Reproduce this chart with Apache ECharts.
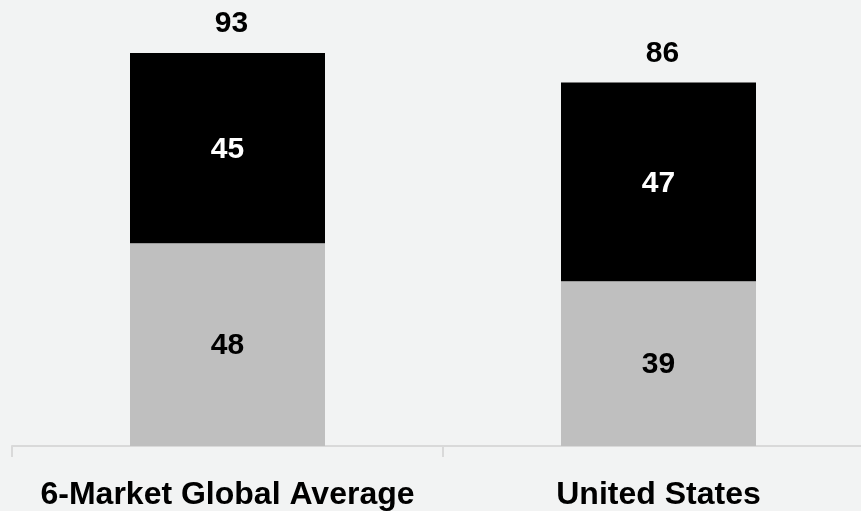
<!DOCTYPE html>
<html>
<head>
<meta charset="utf-8">
<style>
  html, body { margin: 0; padding: 0; background: #f2f3f3; }
  #chart { width: 861px; height: 511px; }
</style>
<script src="https://cdn.jsdelivr.net/npm/echarts@6/dist/echarts.min.js"></script>
</head>
<body>
<div id="chart"></div>
<script>
// Two-segment stacked columns with the total shown above each column
const categories = ['6-Market Global Average', 'United States'];
const lowerValues = [48, 39];   // grey segment
const upperValues = [45, 47];   // black segment
const totals = [93, 86];        // column totals

const chart = echarts.init(document.getElementById('chart'), null, { renderer: 'canvas' });

const valueLabel = (color) => ({
  show: true,
  position: 'inside',
  offset: [0, 1.5],
  color: color,
  fontFamily: 'Liberation Sans, Arial, sans-serif',
  fontWeight: 'bold',
  fontSize: 30,
  formatter: '{c}'
});

chart.setOption({
  backgroundColor: '#f2f3f3',
  animation: false,
  grid: {
    left: 12, right: -13, top: 23.4, bottom: 65,
    containLabel: false,
    outerBoundsMode: 'none'
  },
  xAxis: {
    type: 'category',
    data: categories,
    axisLine: { show: true, lineStyle: { color: '#d9d9d9', width: 2 } },
    axisTick: { show: true, length: 11, lineStyle: { color: '#d9d9d9', width: 2 } },
    axisLabel: {
      interval: 0,
      hideOverlap: false,
      color: '#000',
      fontFamily: 'Liberation Sans, Arial, sans-serif',
      fontWeight: 'bold',
      fontSize: 32,
      margin: 33
    }
  },
  yAxis: {
    type: 'value',
    min: 0,
    max: 100,
    show: false
  },
  series: [
    {
      name: 'lower',
      type: 'bar',
      stack: 'total',
      data: lowerValues,
      barWidth: 195,
      itemStyle: { color: '#bfbfbf' },
      label: valueLabel('#000')
    },
    {
      name: 'upper',
      type: 'bar',
      stack: 'total',
      data: upperValues,
      barWidth: 195,
      itemStyle: { color: '#000000' },
      label: valueLabel('#ffffff')
    },
    {
      name: 'total',
      type: 'bar',
      data: totals,
      barWidth: 195,
      barGap: '-100%',
      z: 1,
      itemStyle: { color: 'rgba(0,0,0,0)' },
      silent: true,
      label: {
        show: true,
        position: 'top',
        distance: 14,
        offset: [4, 0],
        color: '#000',
        fontFamily: 'Liberation Sans, Arial, sans-serif',
        fontWeight: 'bold',
        fontSize: 30,
        formatter: '{c}'
      }
    }
  ]
});
</script>
</body>
</html>
